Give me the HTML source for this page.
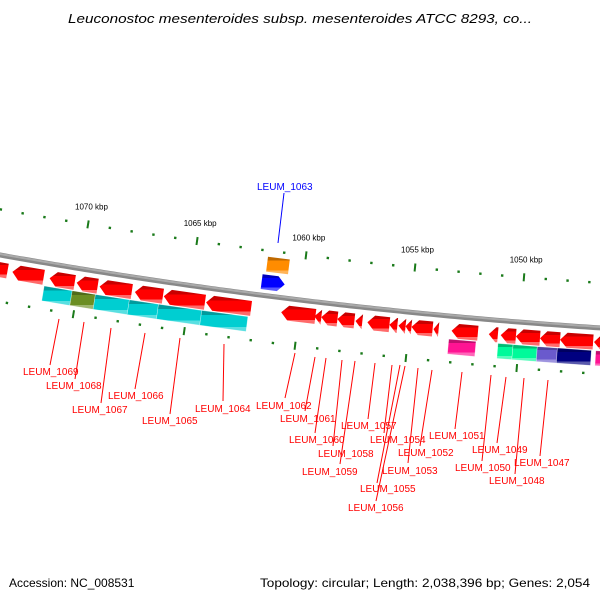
<!DOCTYPE html>
<html><head><meta charset="utf-8"><style>
html,body{margin:0;padding:0;background:#fff;}
svg{display:block;font-family:"Liberation Sans","DejaVu Sans",sans-serif;}
</style></head><body>
<svg id="map" width="600" height="600" viewBox="0 0 600 600" xmlns="http://www.w3.org/2000/svg">
<defs></defs>
<text x="300" y="23" text-anchor="middle" font-size="13" font-style="italic" textLength="464" lengthAdjust="spacingAndGlyphs" fill="#000">Leuconostoc mesenteroides subsp. mesenteroides ATCC 8293, co...</text>
<g id="ticks"></g>
<path id="backbone" fill="none" stroke="#888" stroke-width="5"/>
<path id="backbone2" fill="none" stroke="#aaa" stroke-width="2"/>
<g id="genes"></g>
<g id="labels"></g>
<text x="9" y="587" font-size="12" fill="#000">Accession: NC_008531</text>
<text x="260" y="587" font-size="12" textLength="330" lengthAdjust="spacingAndGlyphs" fill="#000">Topology: circular; Length: 2,038,396 bp; Genes: 2,054</text>
</svg>
<script>
// kbp tick labels
const majorTicks = [1070, 1065, 1060, 1055, 1050];
const minorRange = [1046, 1074];
// genes: [leftKb, rightKb] on reverse strand (row 1, arrows point left)
const redGenes = [[1074.2,1073.22],[1073.0,1071.58],[1071.31,1070.17],[1070.08,1069.13],[1069.04,1067.58],[1067.44,1066.17],[1066.13,1064.26],[1064.21,1062.17],[1060.8,1059.25],[1059.3,1058.98],[1058.98,1058.25],[1058.25,1057.48],[1057.43,1057.12],[1056.89,1055.89],[1055.89,1055.53],[1055.48,1055.16],[1055.16,1054.89],[1054.89,1053.93],[1053.89,1053.66],[1053.07,1051.88],[1051.38,1050.97],[1050.84,1050.15],[1050.15,1049.06],[1049.06,1048.15],[1048.15,1046.65],[1046.61,1045.8]];
// COG-colored row 2
const cogKb = [[1071.49,1070.22],[1070.22,1069.17],[1069.17,1067.63],[1067.63,1066.31],[1066.31,1064.35],[1064.35,1062.26],[1053.16,1051.93],[1050.93,1050.25],[1050.25,1049.15],[1049.15,1048.24],[1048.24,1046.7],[1046.5,1045.5]];
const cogColors = ["#00CED1","#6B8E23","#00CED1","#00CED1","#00CED1","#00CED1","#FF1493","#00FA9A","#00FA9A","#6A5ACD","#000080","#FF1493"];
// forward strand features
const fwdKb = [[1061.71,1060.71],[1061.85,1060.8]];
const fwdColors = ["#FF8C00","#0000FF"];
const fwdArrow = [false, true];
// labels
const labelNames = ["LEUM_1069","LEUM_1068","LEUM_1067","LEUM_1066","LEUM_1065","LEUM_1064","LEUM_1062","LEUM_1061","LEUM_1060","LEUM_1058","LEUM_1059","LEUM_1057","LEUM_1054","LEUM_1055","LEUM_1056","LEUM_1053","LEUM_1052","LEUM_1051","LEUM_1050","LEUM_1049","LEUM_1048","LEUM_1047"];
const labelTx = [23,46,72,108,142,195,256,280,289,318,302,341,370,360,348,382,398,429,455,472,489,514];
const labelTy = [375,389,413,399,424,412,409,422,443,457,475,429,443,492,511,474,456,439,471,453,484,466];
const lineA = [[59,319],[84,322],[111,328],[145,333],[180,338],[224,344],[295,353],[315,357],[326,358],[342,360],[355,361],[375,363],[392,365],[400,365],[405,366],[418,368],[432,370],[462,372],[491,375],[506,377],[524,378],[548,380]];
const lineB = [[50,365],[75,379],[101,403],[135,389],[170,414],[223,401],[285,398],[305,411],[315,433],[333,446],[340,464],[368,419],[384,433],[377,483],[376,501],[408,463],[420,446],[455,429],[482,461],[497,443],[515,474],[540,456]];

const NS="http://www.w3.org/2000/svg";
const yb=x=>255+0.1785*x-9.5e-5*x*x;
const sl=x=>0.1785-1.9e-4*x;
const X=kb=>80.8+(1070-kb)*21.98;
function P(x,off){const s=sl(x),n=1/Math.sqrt(1+s*s);return [x-off*s*n,yb(x)+off*n];}
function mk(tag,attrs,parent){const e=document.createElementNS(NS,tag);for(const k in attrs)e.setAttribute(k,attrs[k]);parent.appendChild(e);return e;}
const svg=document.getElementById('map');
const defs=svg.querySelector('defs');
function grad(id,top,mid,bot){const g=mk('linearGradient',{id:id,x1:0,y1:0,x2:0,y2:1},defs);
 [[0,top],[0.22,top],[0.22,mid],[0.78,mid],[0.78,bot],[1,bot]].forEach(s=>mk('stop',{offset:s[0],'stop-color':s[1]},g));return 'url(#'+id+')';}
function shade(c,f){const r=parseInt(c.substr(1,2),16),g=parseInt(c.substr(3,2),16),b=parseInt(c.substr(5,2),16);
 const m=v=>Math.max(0,Math.min(255,Math.round(f>0?v+(255-v)*f:v*(1+f))));return 'rgb('+m(r)+','+m(g)+','+m(b)+')';}
let d='';for(let x=-5;x<=605;x+=5){d+=(x==-5?'M':'L')+x+','+yb(x).toFixed(2);}
document.getElementById('backbone').setAttribute('d',d);
document.getElementById('backbone2').setAttribute('d',d.replace(/,([\d.]+)/g,(m,v)=>','+(parseFloat(v)-1).toFixed(2)));
const tg=document.getElementById('ticks');
for(let kb=minorRange[0];kb<=minorRange[1];kb++){
 const x=X(kb),major=majorTicks.includes(kb);
 [-45,46].forEach(off=>{
  const a=P(x,off-(major?4:1.2)),b=P(x,off+(major?4:1.2));
  const t=mk('line',{x1:a[0],y1:a[1],x2:b[0],y2:b[1],stroke:'#1a7a1a','stroke-width':major?2:2.4},tg);
  
  
 });
}
majorTicks.forEach(kb=>{const p=P(X(kb),-60);
 const t=mk('text',{x:p[0]+1,y:p[1],'text-anchor':'middle','font-size':8,fill:'#000'},tg);t.textContent=kb+' kbp';
 
 });
const gg=document.getElementById('genes');
function feature(lkb,rkb,o1,o2,fill,dir){
 const x1=X(lkb),x2=X(rkb),h=Math.min(7,x2-x1),om=(o1+o2)/2;let pts;
 if(dir<0)pts=[P(x1,om),P(x1+h,o1),P(x2,o1),P(x2,o2),P(x1+h,o2)];
 else if(dir>0)pts=[P(x1,o1),P(x2-h,o1),P(x2,om),P(x2-h,o2),P(x1,o2)];
 else pts=[P(x1,o1),P(x2,o1),P(x2,o2),P(x1,o2)];
 return mk('polygon',{points:pts.map(p=>p[0].toFixed(1)+','+p[1].toFixed(1)).join(' '),fill:fill},gg);
}
const redFill=grad('gr','#c80000','#ff0000','#ff6a6a');
redGenes.forEach(g=>{const e=feature(g[0],g[1],7,22,redFill,-1);
 
 });
cogKb.forEach((g,i)=>{const c=cogColors[i];const f=grad('cg'+i,shade(c,-0.25),c,shade(c,0.35));
 const e=feature(g[0],g[1],23,38,f,0);e.setAttribute('stroke','rgba(255,255,255,0.5)');e.setAttribute('stroke-width','0.6');
 
 });
fwdKb.forEach((g,i)=>{const c=fwdColors[i];const f=grad('fg'+i,shade(c,-0.25),c,shade(c,0.35));
 const o=i==0?[-39,-24]:[-21,-6];
 const e=feature(g[0],g[1],o[0],o[1],f,fwdArrow[i]?1:0);
 
 });
(function(){const lg=document.getElementById('labels');
 const l=mk('line',{x1:278,y1:243,x2:284,y2:193,stroke:'#0000ff','stroke-width':1},lg);
 
 
 const t=mk('text',{x:257,y:190,'font-size':10,fill:'#0000ff'},lg);t.textContent='LEUM_1063';
 
 })();
const lg=document.getElementById('labels');
labelNames.forEach((n,i)=>{
 const l=mk('line',{x1:lineA[i][0],y1:lineA[i][1],x2:lineB[i][0],y2:lineB[i][1],stroke:'#ff0000','stroke-width':1},lg);
 
 
 const t=mk('text',{x:labelTx[i],y:labelTy[i],'font-size':10,fill:'#ff0000'},lg);t.textContent=n;
 
 
});
</script>
</body></html>
